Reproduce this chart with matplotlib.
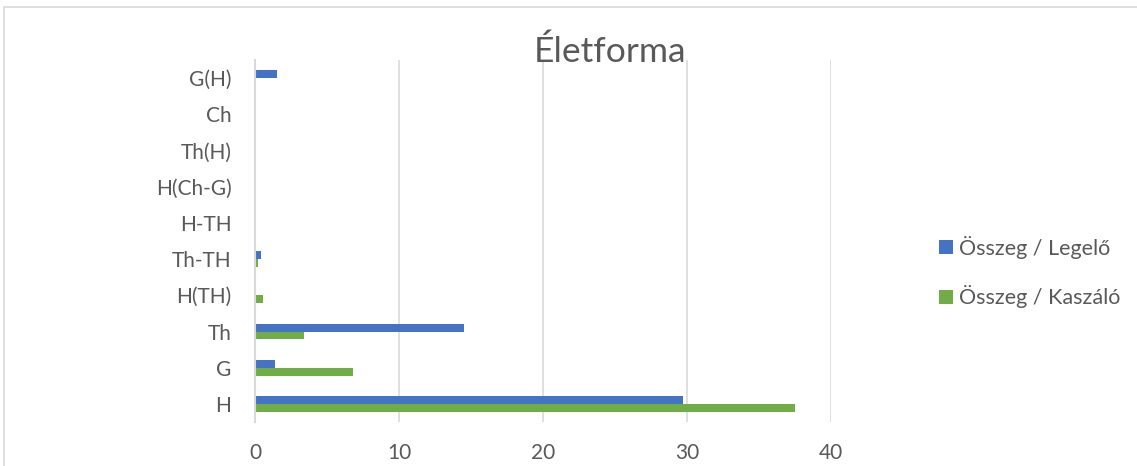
import matplotlib
matplotlib.use("Agg")
import matplotlib.pyplot as plt
from matplotlib.patches import Rectangle
import numpy as np

categories = ["H", "G", "Th", "H(TH)", "Th-TH", "H-TH", "H(Ch-G)", "Th(H)", "Ch", "G(H)"]
legelo = [29.7, 1.4, 14.5, 0.0, 0.4, 0.0, 0.03, 0.03, 0.07, 1.5]
kaszalo = [37.5, 6.8, 3.4, 0.55, 0.2, 0.07, 0.0, 0.0, 0.0, 0.0]
series_names = ["Összeg / Legelő", "Összeg / Kaszáló"]
xticks = [0, 10, 20, 30, 40]

plt.rcParams['font.family'] = ['Lato', 'DejaVu Sans']
text_color = "#595959"
blue = "#4472C4"
green = "#70AD47"

W, H = 1137, 466
fig = plt.figure(figsize=(W / 100, H / 100), dpi=100)
fig.patch.set_facecolor("white")

# outer chart border
fig.patches.append(Rectangle((4 / W, -0.05), 1.1, 1 - 7 / H + 0.05,
                             transform=fig.transFigure, fill=False,
                             edgecolor="#D9D9D9", linewidth=1.2))

ax = fig.add_axes([255 / W, 1 - 422 / H, (831 - 255) / W, (422 - 60) / H])
y = np.arange(len(categories))
bh = 0.22
ax.barh(y + bh / 2, legelo, height=bh, color=blue, label=series_names[0], zorder=3)
ax.barh(y - bh / 2, kaszalo, height=bh, color=green, label=series_names[1], zorder=3)

ax.set_xlim(0, 40)
ax.set_ylim(-0.5, len(categories) - 0.5)
ax.set_xticks(xticks)
ax.set_yticks(y)
ax.set_yticklabels(categories)
ax.tick_params(axis="both", length=0, labelsize=15, colors=text_color)
ax.tick_params(axis="x", pad=15)
ax.tick_params(axis="y", pad=17)
ax.grid(axis="x", color="#D9D9D9", linewidth=1.2, zorder=0)
for s in ["top", "right", "bottom"]:
    ax.spines[s].set_visible(False)
ax.spines["left"].set_color("#D9D9D9")
ax.spines["left"].set_linewidth(1.5)
ax.spines["left"].set_zorder(4)

fig.text(610 / W, 1 - 52 / H, "Életforma", ha="center", va="center",
         fontsize=25.5, color=text_color)

leg = fig.legend(loc="center left", bbox_to_anchor=(920 / W, 1 - 272 / H),
                 frameon=False, fontsize=15.5, labelcolor=text_color,
                 handlelength=0.65, handleheight=0.65, handletextpad=0.25,
                 labelspacing=1.25)

fig.savefig("out.png", dpi=100)
